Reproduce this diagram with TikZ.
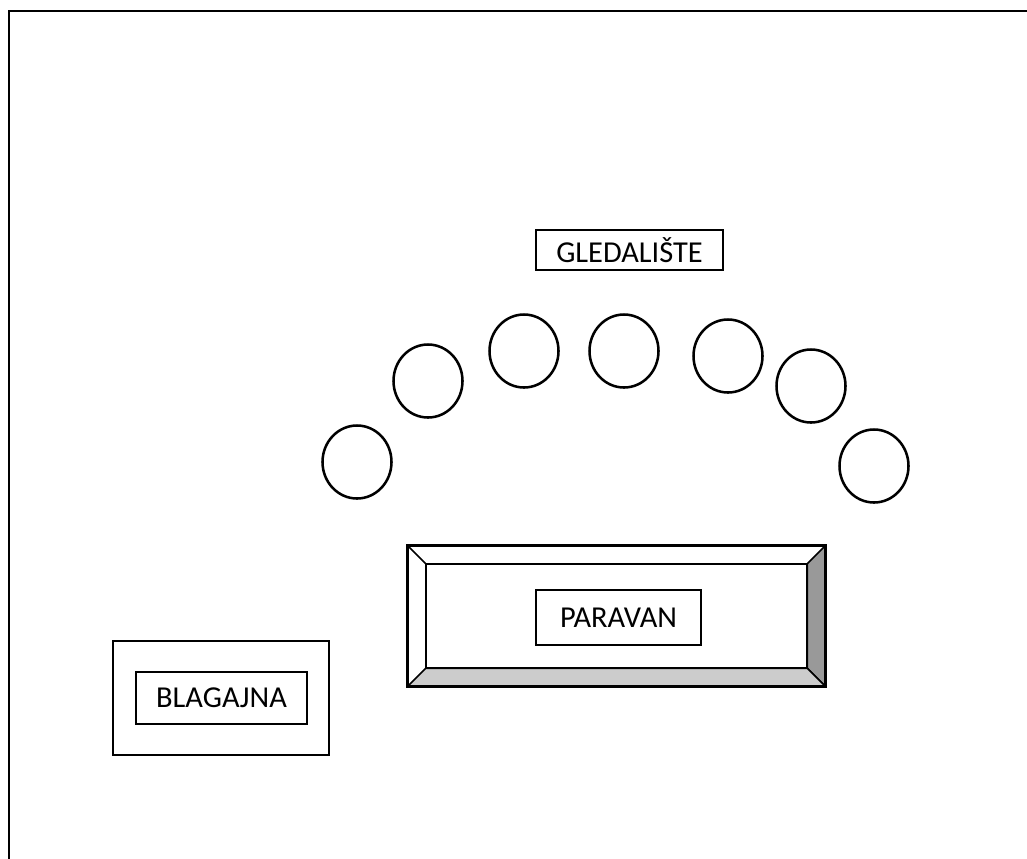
\documentclass[tikz,border=0pt]{standalone}
\usepackage{fontspec}
\setmainfont{Carlito}
\usetikzlibrary{shapes.geometric}

\begin{document}
\begin{tikzpicture} [x = 0.75pt, y = -0.75pt,
  seat/.style = {draw, ellipse, line width = 1.9pt, minimum width = 51.75pt, minimum height = 54.75pt, inner sep = 0pt},
  tag/.style = {draw, rectangle, line width = 1.1pt, font = \fontsize{22.8}{26}\selectfont, inner sep = 0pt},
  thick frame/.style = {line width = 2.1pt}]
\useasboundingbox (0,0) rectangle (1027,858);
\fill[white] (0,0) rectangle (1027,858);
\draw [thick frame, line cap = rect] (9,870) -- (9,11) -- (1035,11);
\node[tag, minimum width = 140pt, minimum height = 30pt] (gled) at (629.5,250) {GLEDALIŠTE};
\node[seat] (s1) at (357,462) {};
\node[seat] (s2) at (428,381) {};
\node[seat] (s3) at (524,351) {};
\node[seat] (s4) at (624,351) {};
\node[seat] (s5) at (728,356) {};
\node[seat] (s6) at (811,386) {};
\node[seat] (s7) at (874,466) {};
\node[rectangle, minimum width = 312.75pt, minimum height = 105pt, inner sep = 0pt] (pout) at (616.5,616) {};
\node[rectangle, minimum width = 285.75pt, minimum height = 78pt, inner sep = 0pt] (pin) at (616.5,616) {};
\filldraw [fill = black!40, line width = 1.2pt, line join = round] (pout.north east) -- (pin.north east) -- (pin.south east) -- (pout.south east) -- cycle;
\filldraw [fill = black!20, line width = 1.2pt, line join = round] (pout.south west) -- (pin.south west) -- (pin.south east) -- (pout.south east) -- cycle;
\draw [line width = 1.2pt] (pout.north west) -- (pin.north west);
\draw [thick frame] (pout.north west) rectangle (pout.south east);
\draw [line width = 1.6pt] (pin.north west) rectangle (pin.south east);
\node[tag, minimum width = 123.75pt, minimum height = 41.25pt] (parav) at (618.5,617.5) {PARAVAN};
\node[draw, rectangle, thick frame, minimum width = 162pt, minimum height = 85.5pt, inner sep = 0pt] (blout) at (221,698) {};
\node[tag, minimum width = 128.25pt, minimum height = 39pt] (blag) at (221.5,698) {BLAGAJNA};
\end{tikzpicture}
\end{document}
